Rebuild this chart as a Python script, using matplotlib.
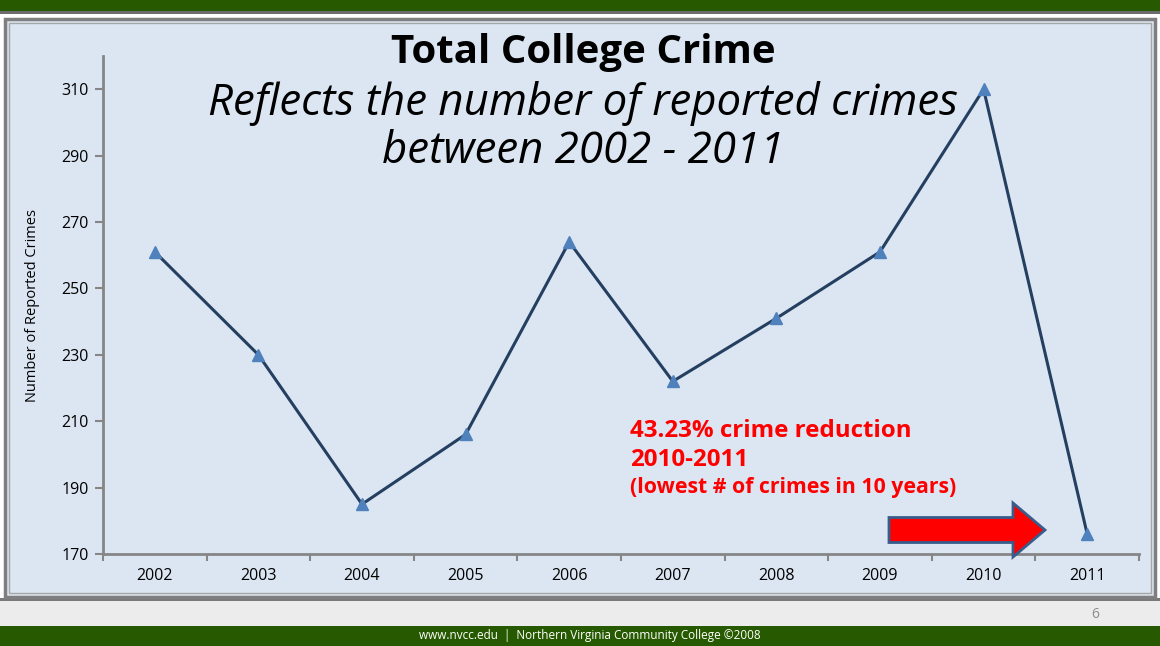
import matplotlib.pyplot as plt
from matplotlib.patches import Rectangle, FancyArrow

years = ['2002', '2003', '2004', '2005', '2006', '2007', '2008', '2009', '2010', '2011']
crimes = [261, 230, 185, 206, 264, 222, 241, 261, 310, 176]
y_ticks = [170, 190, 210, 230, 250, 270, 290, 310]

plt.rcParams['font.family'] = ['Open Sans', 'DejaVu Sans']

fig = plt.figure(figsize=(11.6, 6.46), dpi=100)
W, H = 1160, 646

def px(x, y, w, h):
    # pixel box (top-left origin) -> figure fraction rectangle
    return (x / W, 1 - (y + h) / H), w / W, h / H

def band(x, y, w, h, color, z=0, **kw):
    xy, ww, hh = px(x, y, w, h)
    fig.patches.append(Rectangle(xy, ww, hh, transform=fig.transFigure,
                                 facecolor=color, zorder=z, **kw))

# slide background
band(0, 0, W, H, '#ffffff')
band(0, 0, W, 12, '#275a00')
band(0, 11, W, 3, '#6b6b6b')
band(0, 600, W, 26, '#ececec')
band(0, 598, W, 3, '#7a7a7a')
band(0, 626, W, 20, '#275a00')
# chart panel with frame
band(5, 19, 1150, 578, '#dce6f2', z=1, edgecolor='#7f7f7f', linewidth=2.5)
band(9, 23, 1142, 570, '#dce6f2', z=1, edgecolor='#a6a6a6', linewidth=1)

fig.text(1095 / W, 1 - 615 / H, '6', color='#8c8c8c', fontsize=10,
         ha='center', va='center')
fig.text(590 / W, 1 - 636 / H,
         'www.nvcc.edu  |  Northern Virginia Community College \u00a92008',
         color='white', fontsize=8.5, ha='center', va='center')

ax = fig.add_axes([103 / W, 1 - 554 / H, (1139 - 103) / W, (554 - 56) / H])
ax.set_facecolor('none')
ax.set_zorder(3)

x = list(range(len(years)))
ax.plot(x, crimes, color='#243f60', linewidth=2.2, marker='^',
        markersize=8, markerfacecolor='#4f81bd', markeredgecolor='#4f81bd')

ax.set_xlim(-0.5, len(years) - 0.5)
ax.set_ylim(170, 320)
ax.set_yticks(y_ticks)
ax.set_yticklabels([str(v) for v in y_ticks], fontsize=11.5)
ax.set_xticks(x)
ax.set_xticklabels(years, fontsize=11.5)
ax.tick_params(axis='x', length=0, pad=10)
ax.set_xticks([i + 0.5 for i in range(-1, len(years))], minor=True)
ax.tick_params(axis='x', which='minor', length=5, width=1.5, color='#868686',
               direction='out')
ax.tick_params(axis='y', length=6, width=1.5, color='#868686', pad=4)
for s in ['top', 'right']:
    ax.spines[s].set_visible(False)
for s in ['left', 'bottom']:
    ax.spines[s].set_color('#868686')
    ax.spines[s].set_linewidth(2)
ax.set_ylabel('Number of Reported Crimes', fontsize=10.5, labelpad=16)

fig.text(583 / W, 1 - 52 / H, 'Total College Crime', fontsize=29,
         fontweight='bold', ha='center', va='center', zorder=5)
fig.text(583 / W, 1 - 104 / H, 'Reflects the number of reported crimes',
         fontsize=31.5, style='italic', ha='center', va='center', zorder=5)
fig.text(583 / W, 1 - 152 / H, 'between 2002 - 2011',
         fontsize=31.5, style='italic', ha='center', va='center', zorder=5)

fig.text(630 / W, 1 - 431 / H, '43.23% crime reduction', color='red',
         fontsize=17.4, fontweight='bold', va='center', zorder=5)
fig.text(630 / W, 1 - 460 / H, '2010-2011', color='red',
         fontsize=17.4, fontweight='bold', va='center', zorder=5)
fig.text(630 / W, 1 - 488 / H, '(lowest # of crimes in 10 years)', color='red',
         fontsize=15.3, fontweight='bold', va='center', zorder=5)

arrow = FancyArrow(889 / W, 1 - 530 / H, 156 / W, 0, width=25 / H,
                   head_width=54 / H, head_length=32 / W,
                   length_includes_head=True, transform=fig.transFigure,
                   facecolor='#ff0000', edgecolor='#385d8a', linewidth=2,
                   zorder=6)
fig.patches.append(arrow)

fig.savefig('out.png', dpi=100)
